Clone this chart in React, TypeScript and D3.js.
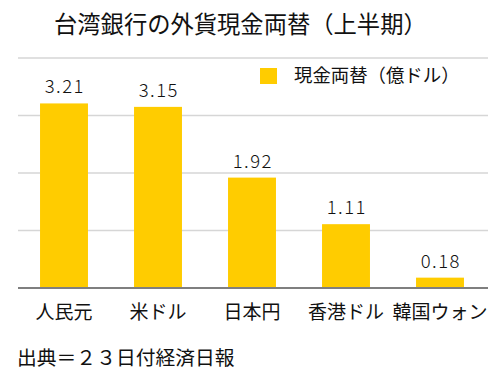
import React from "react";
import * as d3 from "d3";

const categories = ["人民元", "米ドル", "日本円", "香港ドル", "韓国ウォン"];
const values = [3.21, 3.15, 1.92, 1.11, 0.18];
const yTicks = [0, 1, 2, 3, 4];
const title = "台湾銀行の外貨現金両替（上半期）";
const legendLabel = "現金両替（億ドル）";
const source = "出典＝２３日付経済日報";

const W = 500;
const H = 371;
const FONT = "'Noto Sans CJK JP', 'Noto Sans', sans-serif";
const BAR = "#FFCC00";

export default function App() {
  const x = d3.scaleBand<string>().domain(categories).range([17, 487]).paddingInner(0.49).paddingOuter(0.245);
  const y = d3.scaleLinear().domain([0, 4]).range([288, 58]);

  return (
    <div style={{ position: "absolute", left: 0, top: 0 }}>
      <svg width={W} height={H} style={{ display: "block", background: "#fff" }}>
        <text x={54} y={33} fontFamily={FONT} fontSize={23.3} fill="#111">{title}</text>
        {yTicks.filter((t) => t > 0).map((t) => (
          <line key={t} x1={18} x2={488} y1={y(t)} y2={y(t)} stroke="#d6d6d6" strokeWidth={1.5} />
        ))}
        {categories.map((c, i) => (
          <g key={c}>
            <rect x={x(c)} y={y(values[i])} width={x.bandwidth()} height={y(0) - y(values[i])} fill={BAR} />
            <text
              x={(x(c) as number) + x.bandwidth() / 2 + 0.8}
              y={y(values[i]) - 10}
              textAnchor="middle"
              fontFamily={FONT}
              fontSize={18.5}
              fontWeight={300}
              letterSpacing={1.5}
              fill="#111"
            >
              {values[i].toFixed(2)}
            </text>
            <text
              x={(x(c) as number) + x.bandwidth() / 2}
              y={319}
              textAnchor="middle"
              fontFamily={FONT}
              fontSize={19}
              fill="#111"
            >
              {c}
            </text>
          </g>
        ))}
        <line x1={18} x2={488} y1={y(0)} y2={y(0)} stroke="#7f7f7f" strokeWidth={2} />
        <rect x={260} y={68} width={17} height={16} fill={BAR} />
        <text x={294} y={82} fontFamily={FONT} fontSize={18.4} fill="#111">{legendLabel}</text>
        <text x={17} y={365} fontFamily={FONT} fontSize={19.8} fill="#111">{source}</text>
      </svg>
    </div>
  );
}
